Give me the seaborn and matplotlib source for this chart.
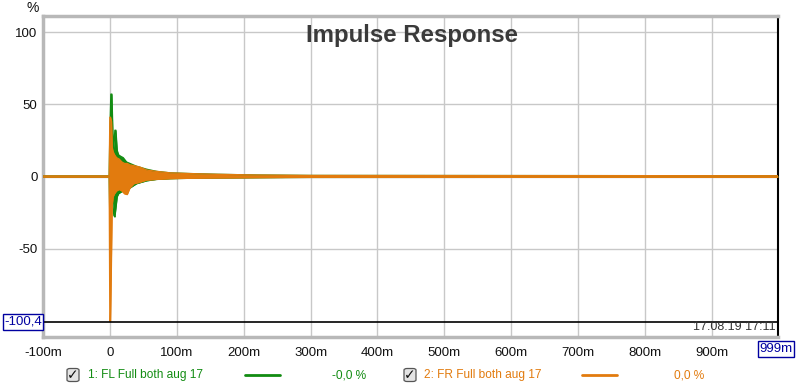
import numpy as np
import pandas as pd
import matplotlib
matplotlib.use("Agg")
import matplotlib.pyplot as plt
from matplotlib.patches import FancyBboxPatch
import seaborn as sns

# ---- data (time in ms, amplitude in %) ----
t_fl = [-100, -1, 0, 1.5, 3, 4.5, 6, 7.5, 9, 11, 13, 16, 20, 25, 30, 40, 55, 70, 90, 120, 160, 220, 300, 999]
fl_upper = [0.4, 0.4, 30, 57, 57, 30, 20, 32, 32, 18, 15, 14, 13, 10, 9, 7, 5, 3.5, 2.5, 2.0, 1.5, 1.0, 0.7, 0.5]
fl_lower = [-0.4, -0.4, -30, -20, -15, -20, -27, -28, -22, -14, -12, -11, -10, -9, -8, -5, -3, -2, -1.5, -1.2, -1.0, -0.8, -0.6, -0.5]

t_fr = [-100, -1, 0, 1, 2.5, 3.5, 5, 7, 10, 14, 18, 22, 26, 30, 36, 45, 55, 70, 90, 120, 160, 220, 300, 999]
fr_upper = [0.4, 0.4, 41, 41, 38, 20, 17, 15, 13, 12, 10, 9, 9, 8, 7.5, 6.5, 4.5, 3.5, 2.5, 2.0, 1.5, 1.0, 0.7, 0.5]
fr_lower = [-0.4, -0.4, -100.4, -100.4, -53, -20, -14, -12, -10, -9, -10, -12, -12.5, -8, -5, -4, -2.5, -2, -1.5, -1.2, -1.0, -0.8, -0.6, -0.5]

series_names = ["1: FL Full both aug 17", "2: FR Full both aug 17"]
series_values = ["-0,0 %", "0,0 %"]
x_ticks = [-100, 0, 100, 200, 300, 400, 500, 600, 700, 800, 900]
x_tick_labels = ["-100m", "0", "100m", "200m", "300m", "400m", "500m", "600m", "700m", "800m", "900m"]
y_ticks = [100, 50, 0, -50]
y_tick_labels = ["100", "50", "0", "-50"]
cursor_level = -100.4
timestamp = "17.08.19 17:11"

GREEN = "#128c12"
ORANGE = "#e27b0e"

sns.set_theme(style="white")
plt.rcParams["font.family"] = ["Liberation Sans", "DejaVu Sans"]

fig = plt.figure(figsize=(8.0, 3.89), dpi=100)
fig.patch.set_facecolor("white")
ax = fig.add_axes([43 / 800, 52 / 389, 735 / 800, 321 / 389])
ax.set_facecolor("white")

df_fl = pd.DataFrame({"t": t_fl, "up": fl_upper, "lo": fl_lower})
df_fr = pd.DataFrame({"t": t_fr, "up": fr_upper, "lo": fr_lower})

for df, col in [(df_fl, GREEN), (df_fr, ORANGE)]:
    ax.fill_between(df["t"], df["lo"], df["up"], color=col, linewidth=0, zorder=3)
    sns.lineplot(data=df, x="t", y="up", ax=ax, color=col, linewidth=1.0, zorder=3)
    sns.lineplot(data=df, x="t", y="lo", ax=ax, color=col, linewidth=1.0, zorder=3)

ax.set_xlim(-100, 999)
ax.set_ylim(-111.1, 111.1)
ax.set_xticks(x_ticks)
ax.set_xticklabels(x_tick_labels)
ax.set_yticks(y_ticks)
ax.set_yticklabels(y_tick_labels)
ax.set_xlabel("")
ax.set_ylabel("")
ax.tick_params(length=0, labelsize=9.5, colors="#111111")
ax.tick_params(axis="x", pad=7)
ax.tick_params(axis="y", pad=4)
ax.grid(True, color="#c8c8c8", linewidth=1.0, zorder=0)
ax.set_axisbelow(True)

ax.axhline(cursor_level, color="black", linewidth=1.2, zorder=4)

for s in ["left", "top", "bottom"]:
    ax.spines[s].set_color("#b8b8b8")
    ax.spines[s].set_linewidth(2.5)
ax.spines["right"].set_color("black")
ax.spines["right"].set_linewidth(1.5)

ax.text(0.5016, 0.918, "Impulse Response", transform=ax.transAxes, ha="center", va="baseline",
        fontsize=17.3, fontweight="bold", color="#3a3a3a", zorder=5)
ax.text(0.997, 0.012, timestamp, transform=ax.transAxes, ha="right", va="bottom",
        fontsize=9, color="#333333", zorder=5)

# "%" unit label
fig.text(33 / 800, 1 - 8 / 389, "%", ha="center", va="center", fontsize=10, color="#111111")

# boxed cursor labels
fig.text(23 / 800, 1 - 322 / 389, "-100,4", ha="center", va="center", fontsize=9.5,
         color="#0000a0",
         bbox=dict(boxstyle="square,pad=0.12", facecolor="white", edgecolor="#0000a0", linewidth=1))
fig.text(776 / 800, 1 - 349 / 389, "999m", ha="center", va="center", fontsize=9.5,
         color="#0000a0",
         bbox=dict(boxstyle="square,pad=0.12", facecolor="white", edgecolor="#0000a0", linewidth=1))

# legend row
ly = 1 - 375 / 389
for cbx, tx, l0, l1, vx, name, val, col in [
    (73, 88, 245, 280, 349, series_names[0], series_values[0], GREEN),
    (410, 424, 582, 617, 689, series_names[1], series_values[1], ORANGE),
]:
    box = FancyBboxPatch(((cbx - 6) / 800, ly - 6.5 / 389), 12 / 800, 13 / 389,
                         boxstyle="round,pad=0,rounding_size=0.004",
                         transform=fig.transFigure, facecolor="#e4e4e4",
                         edgecolor="#555555", linewidth=0.9)
    fig.patches.append(box)
    fig.text(cbx / 800, ly, "\u2713", ha="center", va="center", fontsize=10,
             fontweight="bold", color="#111111", family=["DejaVu Sans"])
    fig.text(tx / 800, ly, name, ha="left", va="center", fontsize=8.6, color=col)
    fig.add_artist(plt.Line2D([l0 / 800, l1 / 800], [ly, ly], transform=fig.transFigure,
                              color=col, linewidth=2))
    fig.text(vx / 800, ly, val, ha="center", va="center", fontsize=8.6, color=col)

fig.savefig("out.png", dpi=100)
